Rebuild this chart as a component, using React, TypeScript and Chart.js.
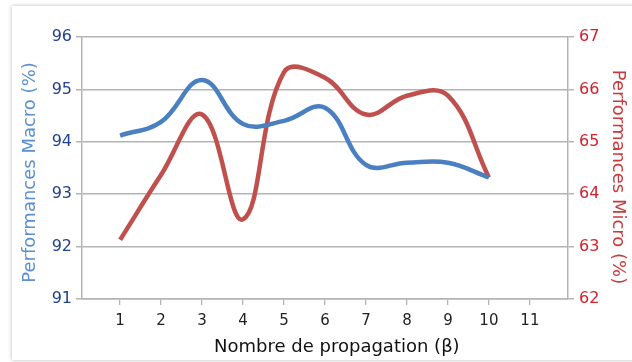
import React, { useEffect, useRef } from "react";
import { Chart, registerables } from "chart.js";

Chart.register(...registerables);

const propagation = [1, 2, 3, 4, 5, 6, 7, 8, 9, 10];
const macro = [94.12, 94.38, 95.18, 94.34, 94.4, 94.65, 93.56, 93.6, 93.6, 93.32];
const micro = [63.13, 64.37, 65.52, 63.52, 66.33, 66.22, 65.52, 65.88, 65.88, 64.32];
const xTicks = [1, 2, 3, 4, 5, 6, 7, 8, 9, 10, 11];

const FONT = "'DejaVu Sans', sans-serif";
const GRID = "#b4b4b4";

export default function App() {
  const ref = useRef<HTMLCanvasElement | null>(null);
  useEffect(() => {
    if (!ref.current) return;
    const chart = new Chart(ref.current, {
      type: "line",
      data: {
        datasets: [
          {
            label: "Performances Macro (%)",
            data: propagation.map((x, i) => ({ x, y: macro[i] })),
            borderColor: "#4a7fc1",
            borderWidth: 4.5,
            pointRadius: 0,
            tension: 0.4,
            yAxisID: "y",
            fill: false,
          },
          {
            label: "Performances Micro (%)",
            data: propagation.map((x, i) => ({ x, y: micro[i] })),
            borderColor: "#c0504d",
            borderWidth: 4.5,
            pointRadius: 0,
            tension: 0.4,
            yAxisID: "y1",
            fill: false,
          },
        ],
      },
      options: {
        responsive: false,
        animation: false,
        layout: { padding: { top: 37, left: 0, right: 0, bottom: 0 } },
        plugins: { legend: { display: false }, tooltip: { enabled: false } },
        scales: {
          x: {
            type: "linear",
            min: 0.07,
            max: 11.93,
            afterBuildTicks: (s: any) => {
              s.ticks = xTicks.map((v) => ({ value: v }));
            },
            afterFit: (s: any) => {
              s.height = 63;
            },
            grid: { drawOnChartArea: false, color: GRID, tickLength: 6, lineWidth: 1.3 },
            border: { color: GRID, width: 1.5 },
            ticks: {
              color: "#222",
              font: { family: FONT, size: 15 },
              padding: 7,
              maxRotation: 0,
              autoSkip: false,
            },
            title: {
              display: true,
              text: "\u2002\u2002 Nombre de propagation (β)",
              color: "#111",
              font: { family: FONT, size: 18 },
              padding: { top: 0, bottom: 4 },
            },
          },
          y: {
            position: "left",
            min: 91,
            max: 96,
            afterFit: (s: any) => {
              s.width = 82;
            },
            grid: { color: GRID, tickLength: 6, lineWidth: 1.5 },
            border: { color: GRID, width: 1.5 },
            ticks: {
              stepSize: 1,
              color: "#23408e",
              font: { family: FONT, size: 16 },
              padding: 4,
            },
            title: {
              display: true,
              text: "Performances Macro (%)\u2002",
              color: "#5a8fd2",
              font: { family: FONT, size: 18 },
              padding: { top: 19.5, bottom: 0 },
            },
          },
          y1: {
            position: "right",
            min: 62,
            max: 67,
            afterFit: (s: any) => {
              s.width = 64;
            },
            grid: { drawOnChartArea: false, color: GRID, tickLength: 6, lineWidth: 1.5 },
            border: { color: GRID, width: 1.5 },
            ticks: {
              stepSize: 1,
              color: "#d2222c",
              font: { family: FONT, size: 16 },
              padding: 5,
            },
            title: {
              display: true,
              text: "\u2002\u2002Performances Micro (%)",
              color: "#c83a3c",
              font: { family: FONT, size: 18 },
              padding: { top: 4, bottom: 0 },
            },
          },
        },
      },
    });
    return () => chart.destroy();
  }, []);

  return (
    <div style={{ position: "fixed", left: 0, top: 0, width: 632, height: 362, background: "#fff", overflow: "hidden" }}>
      <div
        style={{
          position: "absolute",
          left: 12,
          top: 6,
          width: 700,
          height: 354,
          background: "#fff",
          boxShadow: "0 0 4px rgba(0,0,0,0.28)",
        }}
      />
      <canvas ref={ref} width={632} height={362} style={{ position: "absolute", left: 0, top: 0 }} />
    </div>
  );
}
